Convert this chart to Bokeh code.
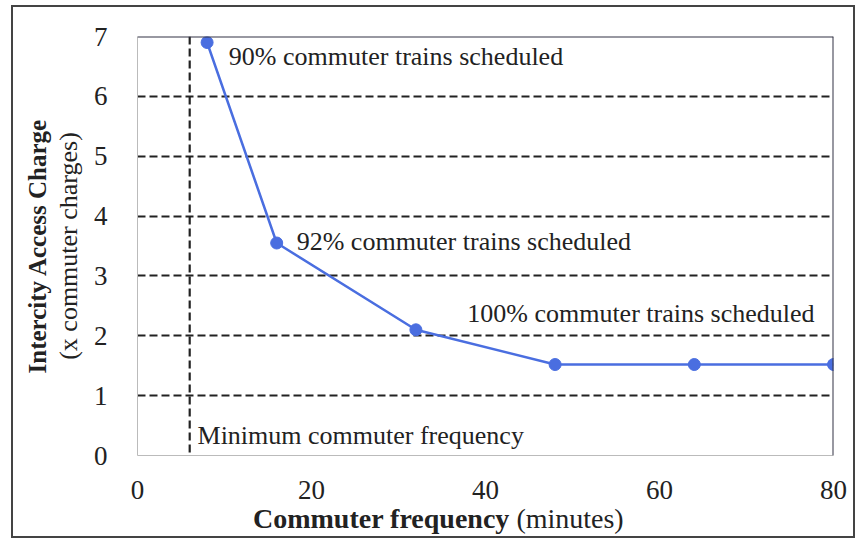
from bokeh.plotting import figure
from bokeh.models import Label, Span, FixedTicker, LinearAxis, Div
from bokeh.layouts import column
from bokeh.embed import file_html
from bokeh.resources import INLINE

freq = [8, 16, 32, 48, 64, 80]
charge = [6.9, 3.55, 2.1, 1.52, 1.52, 1.52]
min_freq = 6
x_ticks = [0, 20, 40, 60, 80]
y_ticks = [0, 1, 2, 3, 4, 5, 6, 7]
labels = ["90% commuter trains scheduled", "92% commuter trains scheduled",
          "100% commuter trains scheduled", "Minimum commuter frequency"]
label_x = [10.5, 18.3, 37.9, 6.9]
label_y = [6.67, 3.58, 2.37, 0.33]
x_title_bold = "Commuter frequency"
x_title_unit = "(minutes)"
y_title_bold = "Intercity Access Charge"
y_title_unit = "(x commuter charges)"

FONT = "Liberation Serif"
TXT = "#222222"

p = figure(width=840, height=500, x_range=(0, 80), y_range=(0, 7),
           output_backend="svg", toolbar_location=None,
           min_border_left=124, min_border_top=29, min_border_right=20, min_border_bottom=52)
p.outline_line_color = None

for ax in (p.xaxis[0], p.yaxis[0]):
    ax.major_tick_line_color = None
    ax.minor_tick_line_color = None
    ax.axis_line_color = "#bbbbbb"
    ax.axis_line_width = 1
    ax.major_label_text_font = FONT
    ax.major_label_text_font_size = "27px"
    ax.major_label_text_color = TXT

p.xaxis.ticker = FixedTicker(ticks=x_ticks)
p.yaxis.ticker = FixedTicker(ticks=y_ticks)
p.xaxis.major_label_standoff = 19
p.yaxis.major_label_standoff = 24

p.yaxis.axis_label = y_title_unit
p.yaxis.axis_label_text_font = FONT
p.yaxis.axis_label_text_font_style = "normal"
p.yaxis.axis_label_text_font_size = "26px"
p.yaxis.axis_label_text_color = TXT
p.yaxis.axis_label_standoff = 8

outer = LinearAxis(ticker=FixedTicker(ticks=[]), axis_line_color=None,
                   major_tick_line_color=None, minor_tick_line_color=None,
                   axis_label=y_title_bold, axis_label_text_font=FONT,
                   axis_label_text_font_style="bold", axis_label_text_font_size="25px",
                   axis_label_text_color=TXT, axis_label_standoff=0)
p.add_layout(outer, "left")

p.xgrid.grid_line_color = None
p.ygrid.ticker = FixedTicker(ticks=[1, 2, 3, 4, 5, 6])
p.ygrid.grid_line_color = "#222222"
p.ygrid.grid_line_width = 2.2
p.ygrid.grid_line_dash = "8 4"

p.add_layout(Span(location=min_freq, dimension="height", line_color="#222222",
                  line_width=2.2, line_dash="8 4"))
p.add_layout(Span(location=80, dimension="height", line_color="#333344", line_width=2))
p.add_layout(Span(location=7, dimension="width", line_color="#333344", line_width=2))

p.line(freq, charge, line_color="#4a6ee0", line_width=2.5)
p.scatter(freq, charge, size=12, fill_color="#4a6ee0", line_color="#4a6ee0")

for t, x, y in zip(labels, label_x, label_y):
    p.add_layout(Label(x=x, y=y, text=t, text_font=FONT, text_font_size="26px",
                       text_color=TXT, text_baseline="middle"))

title = Div(text=(f'<div style="position:relative; top:-8px; white-space:nowrap; '
                  f'line-height:28px; padding-left:240px">'
                  f'<b>{x_title_bold}</b> {x_title_unit}</div>'),
            width=840, height=29, margin=(0, 0, 0, 0),
            styles={"font-family": FONT, "font-size": "28px", "color": TXT})

layout = column(p, title, spacing=0,
                styles={"border": "2px solid #444", "margin-left": "11px", "margin-top": "5px"})

open("out.html", "w").write(file_html(layout, INLINE))
